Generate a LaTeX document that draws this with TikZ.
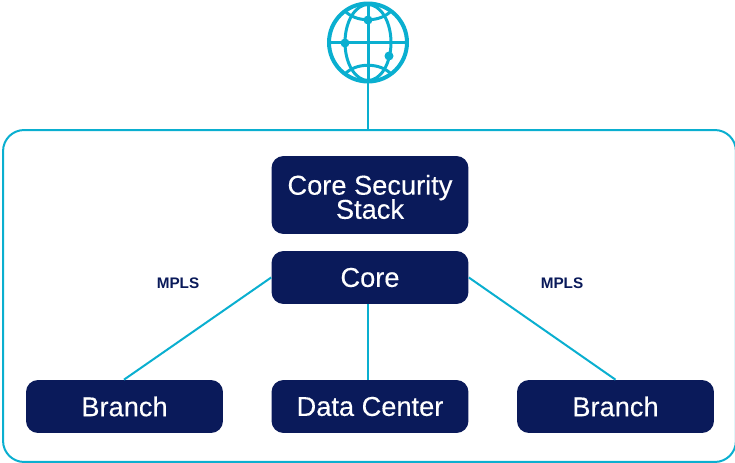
\documentclass[tikz,border=0pt]{standalone}
\usepackage{fontspec}
\setmainfont{Liberation Sans}
\newfontfamily\sitefont[FakeBold=0.25]{Liberation Sans}
\usepackage{tikz}
\usetikzlibrary{positioning}
\definecolor{linkcyan}{HTML}{0AAFD0}
\definecolor{boxnavy}{HTML}{0A1A5A}
\tikzset{%
	every site/.style={
		draw=none,
		fill=boxnavy,
		rounded corners=0.24cm,
		text=white,
		font=\sitefont\fontsize{15.5}{13}\selectfont,
		align=center,
		minimum width=3.94cm,
		inner sep=0pt
	},
	site low/.style={
		every site,
		minimum height=1.06cm
	},
	link/.style={
		draw=linkcyan,
		line width=0.04cm
	},
	globe line/.style={
		draw=linkcyan,
		line width=0.06cm
	},
	link label/.style={
		text=boxnavy,
		font=\fontsize{8.7}{10}\selectfont\bfseries
	},
}
\begin{document}
\begin{tikzpicture}[x=0.02cm,y=-0.02cm]
	\useasboundingbox (0,0) rectangle (735,463);

	% Outer frame
	\node[link, rounded corners=0.42cm, minimum width=14.66cm, minimum height=6.64cm, inner sep=0pt] (frame) at (369.5,296) {};

	% Sites in the frame
	\node[every site, minimum height=1.56cm] (security) at (370,195) {\rule{0pt}{13.5pt}Core Security\\[-0.06cm]Stack};
	\node[site low] (core) at (370,277.5) {Core};
	\foreach \name/\xpos/\label in {branchL/124.5/Branch, center/370/Data Center, branchR/615.5/Branch} {
		\node[site low] (\name) at (\xpos,406.5) {\label};
	}

	% Links out of the core
	\draw[link] (core.west) -- ([xshift=-0.01cm]branchL.north);
	\draw[link] ([xshift=-0.04cm]core.south) -- ([xshift=-0.04cm]center.north);
	\draw[link] (core.east) -- (branchR.north);
	\node[link label] (mplsL) at (178,283) {MPLS};
	\node[link label] (mplsR) at (562,283) {MPLS};

	% Globe
	\node[circle, draw=linkcyan, line width=0.08cm, minimum size=1.56cm, inner sep=0pt] (globe) at (368,42.5) {};
	\draw[link] (globe.south) -- (globe.south |- frame.north);
	\draw[globe line] (368,3) -- (368,82);
	\draw[globe line] (329,42.5) -- (407,42.5);
	\draw[globe line] (368,42.5) ellipse [x radius=23, y radius=38];
	\draw[globe line] (344,10) .. controls (355,23) and (381,23) .. (392,10);
	\draw[globe line] (344,75) .. controls (355,62) and (381,62) .. (392,75);
	\foreach \xpos/\ypos in {368/20, 345/43, 389/56} {
		\fill[linkcyan] (\xpos,\ypos) circle [radius=4.5];
	}
\end{tikzpicture}
\end{document}
